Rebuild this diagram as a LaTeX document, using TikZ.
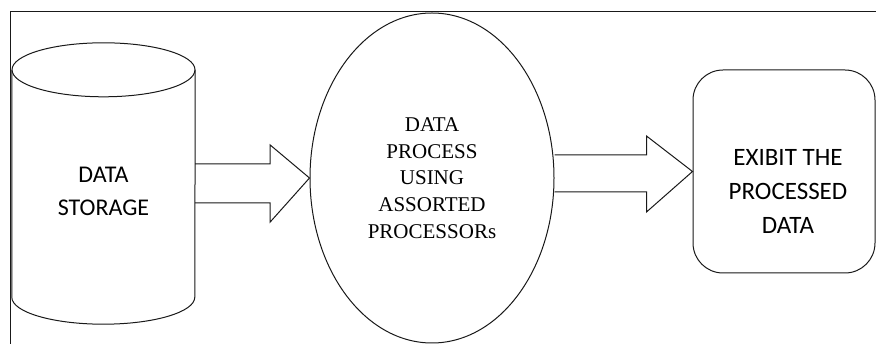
\documentclass[tikz,border=0pt]{standalone}
\usepackage{fontspec}
\newfontfamily\carlito{Carlito}
\newfontfamily\liberserif{Liberation Serif}
\usetikzlibrary{calc,shapes.geometric}
\tikzset{
  box/.style={draw=black!90, line width=1pt},
  blockarrow/.style={draw=black!90, line width=1pt, line join=miter},
  sanslabel/.style={align=center, font=\carlito\fontsize{24}{33}\selectfont},
  seriflabel/.style={align=center, font=\liberserif\fontsize{21}{26.6}\selectfont}
}
\begin{document}
\begin{tikzpicture}[x=1pt,y=-1pt]
\useasboundingbox (0,0) rectangle (876,344);
\draw[box] (10,344) -- (10,12) -- (876,12);

\node[minimum width=183pt, minimum height=227pt, inner sep=0pt] (store) at (103.5,183.5) {};
\draw[box] (store.north west) -- (store.south west) arc[start angle=180, end angle=360, x radius=91.5pt, y radius=27pt] -- (store.north east);
\draw[box] (store.north) ellipse[x radius=91.5pt, y radius=27pt];
\node[sanslabel] (storetxt) at (103.5,191) {DATA\\STORAGE};

\node[box, ellipse, minimum width=244pt, minimum height=330pt, inner sep=0pt, seriflabel] (proc) at (432,178) {DATA\\PROCESS\\USING\\ASSORTED\\PROCESSORs};

\node[box, rounded corners=30pt, minimum width=182pt, minimum height=203pt] (show) at (784,171.5) {};
\node[sanslabel, font=\carlito\fontsize{25}{34}\selectfont] (showtxt) at (788,191.5) {EXIBIT THE\\PROCESSED\\DATA};

\draw[blockarrow] ($(store.east)+(0,-19.5)$) -- ++(75,0) -- ++(0,-19) -- (proc.west) -- ($(store.east)+(75,38.5)$) -- ++(0,-19) -- ($(store.east)+(0,19.5)$);
\draw[blockarrow] ($(proc.east)+(0,-23)$) -- ++(92,0) -- ++(0,-19) -- (show.west) -- ($(proc.east)+(92,34)$) -- ++(0,-20) -- ($(proc.east)+(0,14)$);
\end{tikzpicture}
\end{document}
